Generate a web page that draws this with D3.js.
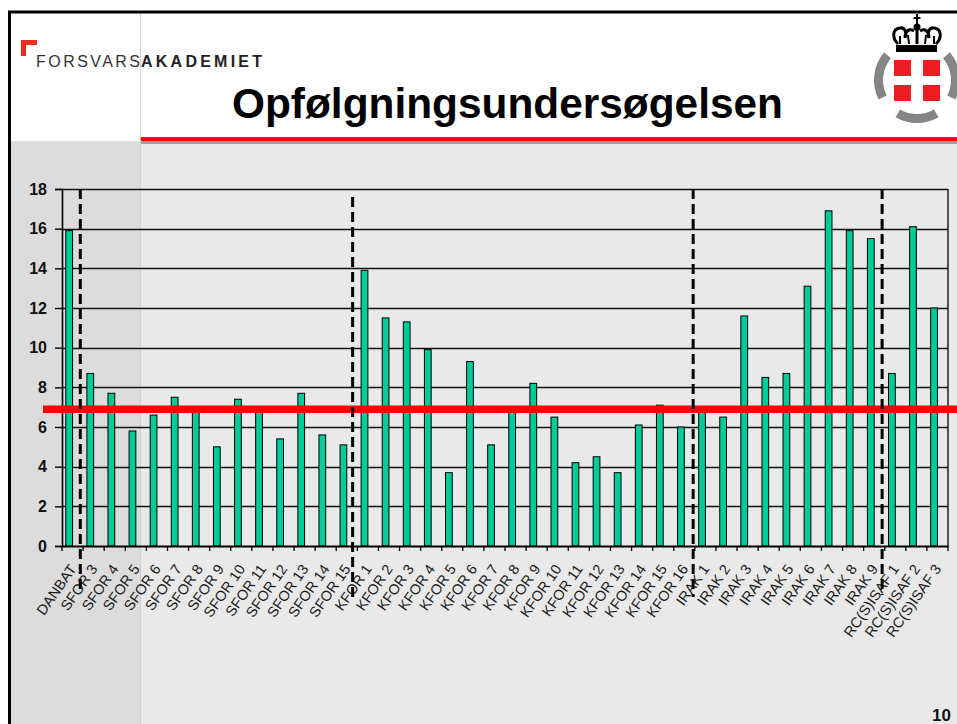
<!DOCTYPE html>
<html>
<head>
<meta charset="utf-8">
<script src="https://cdn.jsdelivr.net/npm/d3@7"></script>
<style>
  html, body { margin: 0; padding: 0; background: #ffffff; }
  svg { display: block; }
  text { font-family: "Liberation Sans", Arial, sans-serif; }
</style>
</head>
<body>
<svg id="chart" width="957" height="724"></svg>
<script>
// ---------------- data ----------------
const categories = [
  "DANBAT",
  "SFOR 3","SFOR 4","SFOR 5","SFOR 6","SFOR 7","SFOR 8","SFOR 9","SFOR 10","SFOR 11","SFOR 12","SFOR 13","SFOR 14","SFOR 15",
  "KFOR 1","KFOR 2","KFOR 3","KFOR 4","KFOR 5","KFOR 6","KFOR 7","KFOR 8","KFOR 9","KFOR 10","KFOR 11","KFOR 12","KFOR 13","KFOR 14","KFOR 15","KFOR 16",
  "IRAK 1","IRAK 2","IRAK 3","IRAK 4","IRAK 5","IRAK 6","IRAK 7","IRAK 8","IRAK 9",
  "RC(S)ISAF 1","RC(S)ISAF 2","RC(S)ISAF 3"
];
const values = [
  15.9,
  8.7, 7.7, 5.8, 6.6, 7.5, 6.9, 5.0, 7.4, 6.8, 5.4, 7.7, 5.6, 5.1,
  13.9, 11.5, 11.3, 9.9, 3.7, 9.3, 5.1, 6.8, 8.2, 6.5, 4.2, 4.5, 3.7, 6.1, 7.1, 6.0,
  6.9, 6.5, 11.6, 8.5, 8.7, 13.1, 16.9, 15.9, 15.5,
  8.7, 16.1, 12.0
];
const yTicks = [0, 2, 4, 6, 8, 10, 12, 14, 16, 18];
const referenceValue = 6.9;
const separatorCategories = ["SFOR 3", "KFOR 1", "IRAK 1", "RC(S)ISAF 1"];
const titleText = "Opfølgningsundersøgelsen";
const brandRegular = "FORSVARS";
const brandBold = "AKADEMIET";
const pageNumber = "10";

// ---------------- layout / style ----------------
const sepStyle = [
  { dx: -2.8, top: 18, bottom: 590 },
  { dx: -4.7, top: 17.6, bottom: 597 },
  { dx: -1.7, top: 18, bottom: 597 },
  { dx: -2.6, top: 18, bottom: 595 }
];
const FONT = "'Liberation Sans', Arial, sans-serif";
const svg = d3.select("#chart");

// page background
svg.append("rect").attr("x", 0).attr("y", 0).attr("width", 957).attr("height", 724).attr("fill", "#ffffff");
svg.append("rect").attr("x", 10).attr("y", 12).attr("width", 947).attr("height", 712).attr("fill", "#e9e9e9");
svg.append("rect").attr("x", 10).attr("y", 12).attr("width", 947).attr("height", 129).attr("fill", "#ffffff");
svg.append("rect").attr("x", 10).attr("y", 141).attr("width", 130).attr("height", 583).attr("fill", "#dcdcdc");
svg.append("line").attr("x1", 140.5).attr("x2", 140.5).attr("y1", 12).attr("y2", 724)
  .attr("stroke", "#cfcfcf").attr("stroke-width", 1);
// red rule under title + grey shadow
svg.append("rect").attr("x", 141).attr("y", 137).attr("width", 816).attr("height", 4).attr("fill", "#ff0000");
svg.append("rect").attr("x", 141).attr("y", 141).attr("width", 816).attr("height", 3).attr("fill", "#a0a0a0");
// frame
svg.append("line").attr("x1", 8).attr("x2", 957).attr("y1", 12).attr("y2", 12).attr("stroke", "#000").attr("stroke-width", 3);
svg.append("line").attr("x1", 9.5).attr("x2", 9.5).attr("y1", 11).attr("y2", 724).attr("stroke", "#000").attr("stroke-width", 3);

// brand
svg.append("path").attr("d", "M21,40 H37 V45 H26 V56 H21 Z").attr("fill", "#e8301c");
svg.append("text").attr("x", 36).attr("y", 67).style("font-size", "16px").attr("fill", "#333")
  .attr("textLength", 104).attr("lengthAdjust", "spacing").text(brandRegular);
svg.append("text").attr("x", 141).attr("y", 67).style("font-size", "16px").attr("font-weight", "bold").attr("fill", "#222")
  .attr("textLength", 121).attr("lengthAdjust", "spacing").text(brandBold);

// title
svg.append("text").attr("x", 232).attr("y", 118).style("font-size", "42px").attr("font-weight", "bold")
  .attr("fill", "#000").attr("textLength", 551).attr("lengthAdjust", "spacingAndGlyphs").text(titleText);

// logo
const logo = svg.append("g").attr("transform", "translate(917,80)");
const arcGen = d3.arc().innerRadius(34).outerRadius(43);
[[243, 310], [150, 210], [50, 117]].forEach(([a0, a1]) => {
  logo.append("path").attr("d", arcGen({ startAngle: a0 * Math.PI / 180, endAngle: a1 * Math.PI / 180 }))
    .attr("fill", "#858585");
});
[[-23, -20], [6, -20], [-23, 5], [6, 5]].forEach(([x0, y0]) => {
  logo.append("rect").attr("x", x0).attr("y", y0).attr("width", 17).attr("height", 16).attr("fill", "#ee1c25");
});
// crown
const crown = svg.append("g");
crown.append("rect").attr("x", 896).attr("y", 45).attr("width", 41).attr("height", 7).attr("fill", "#000");
crown.append("path").attr("d",
  "M898,44 C892,38 892,29 900,28 C905,27 907,33 905,38 M905,38 C905,31 909,28 914,31 M920,31 C925,28 929,31 929,38 M929,38 C927,33 929,27 934,28 C942,29 942,38 936,44")
  .attr("fill", "none").attr("stroke", "#000").attr("stroke-width", 3);
crown.append("path").attr("d", "M900,44 L900,36 M934,44 L934,36").attr("stroke", "#000").attr("stroke-width", 2);
crown.append("line").attr("x1", 917).attr("x2", 917).attr("y1", 27).attr("y2", 44).attr("stroke", "#000").attr("stroke-width", 3);
crown.append("line").attr("x1", 917).attr("x2", 917).attr("y1", 14).attr("y2", 26).attr("stroke", "#000").attr("stroke-width", 2);
crown.append("line").attr("x1", 913.5).attr("x2", 920.5).attr("y1", 18).attr("y2", 18).attr("stroke", "#000").attr("stroke-width", 2);
crown.append("circle").attr("cx", 917).attr("cy", 27).attr("r", 3.5).attr("fill", "#000");
crown.append("line").attr("x1", 908).attr("x2", 909).attr("y1", 35).attr("y2", 44).attr("stroke", "#000").attr("stroke-width", 2);
crown.append("line").attr("x1", 926).attr("x2", 925).attr("y1", 35).attr("y2", 44).attr("stroke", "#000").attr("stroke-width", 2);

// ---------------- chart ----------------
const plotLeft = 62, plotRight = 948, plotTop = 189, plotBottom = 546;
const x = d3.scaleBand().domain(categories).range([plotLeft, plotRight]).paddingInner(0).paddingOuter(0);
const y = d3.scaleLinear().domain([0, 18]).range([plotBottom, plotTop]);
const bw = x.bandwidth();

const chart = svg.append("g");

// gridlines
chart.append("g").selectAll("line").data(yTicks.filter(d => d > 0)).join("line")
  .attr("x1", plotLeft).attr("x2", plotRight)
  .attr("y1", d => Math.round(y(d)) + 0.5).attr("y2", d => Math.round(y(d)) + 0.5)
  .attr("stroke", "#111").attr("stroke-width", 1.4);
// right border
chart.append("line").attr("x1", plotRight).attr("x2", plotRight).attr("y1", y(18)).attr("y2", y(0))
  .attr("stroke", "#111").attr("stroke-width", 1.4);

// y axis
const yAxis = chart.append("g").attr("transform", `translate(${plotLeft},0)`)
  .call(d3.axisLeft(y).tickValues(yTicks).tickSize(7).tickPadding(8));
yAxis.attr("font-size", null).attr("font-family", null);
yAxis.select(".domain").attr("stroke", "#000").attr("stroke-width", 1.6);
yAxis.selectAll(".tick line").attr("stroke", "#000").attr("stroke-width", 1.4);
yAxis.selectAll("text").style("font-size", "16px").style("font-weight", "bold").attr("fill", "#111")
  .style("font-family", FONT);

// bars
chart.append("g").selectAll("rect").data(categories).join("rect")
  .attr("x", (c) => x(c) + bw * 0.18)
  .attr("width", bw * 0.32)
  .attr("y", (c, i) => y(values[i]))
  .attr("height", (c, i) => y(0) - y(values[i]))
  .attr("fill", "#00cc99").attr("stroke", "#000").attr("stroke-width", 1);

// x axis
const xAxis = chart.append("g").attr("transform", `translate(0,${plotBottom})`)
  .call(d3.axisBottom(x).tickSize(0).tickPadding(0));
xAxis.attr("font-size", null).attr("font-family", null);
xAxis.select(".domain").attr("stroke", "#000").attr("stroke-width", 1.8);
xAxis.selectAll("text")
  .attr("x", 0).attr("y", 0).attr("dy", "0.35em")
  .attr("transform", "translate(0.3,20) rotate(-55)")
  .style("text-anchor", "end")
  .style("font-size", "14.5px").attr("fill", "#1a1a1a")
  .style("font-family", FONT);
// boundary ticks
chart.append("g").selectAll("line").data(categories.map(c => x(c)).concat([plotRight])).join("line")
  .attr("x1", d => d).attr("x2", d => d).attr("y1", plotBottom).attr("y2", plotBottom + 5)
  .attr("stroke", "#000").attr("stroke-width", 1.3);

// reference line
svg.append("line").attr("x1", 43).attr("x2", 957).attr("y1", y(referenceValue)).attr("y2", y(referenceValue))
  .attr("stroke", "#ff0000").attr("stroke-width", 7.5);

// separators
svg.append("g").selectAll("line").data(separatorCategories).join("line")
  .attr("x1", (c, i) => x(c) + sepStyle[i].dx).attr("x2", (c, i) => x(c) + sepStyle[i].dx)
  .attr("y1", (c, i) => y(sepStyle[i].top)).attr("y2", (c, i) => sepStyle[i].bottom)
  .attr("stroke", "#000").attr("stroke-width", 3).attr("stroke-dasharray", "10,5");

// page number
svg.append("text").attr("x", 932).attr("y", 721).style("font-size", "17px").attr("font-weight", "bold")
  .attr("fill", "#111").text(pageNumber);
</script>
</body>
</html>
